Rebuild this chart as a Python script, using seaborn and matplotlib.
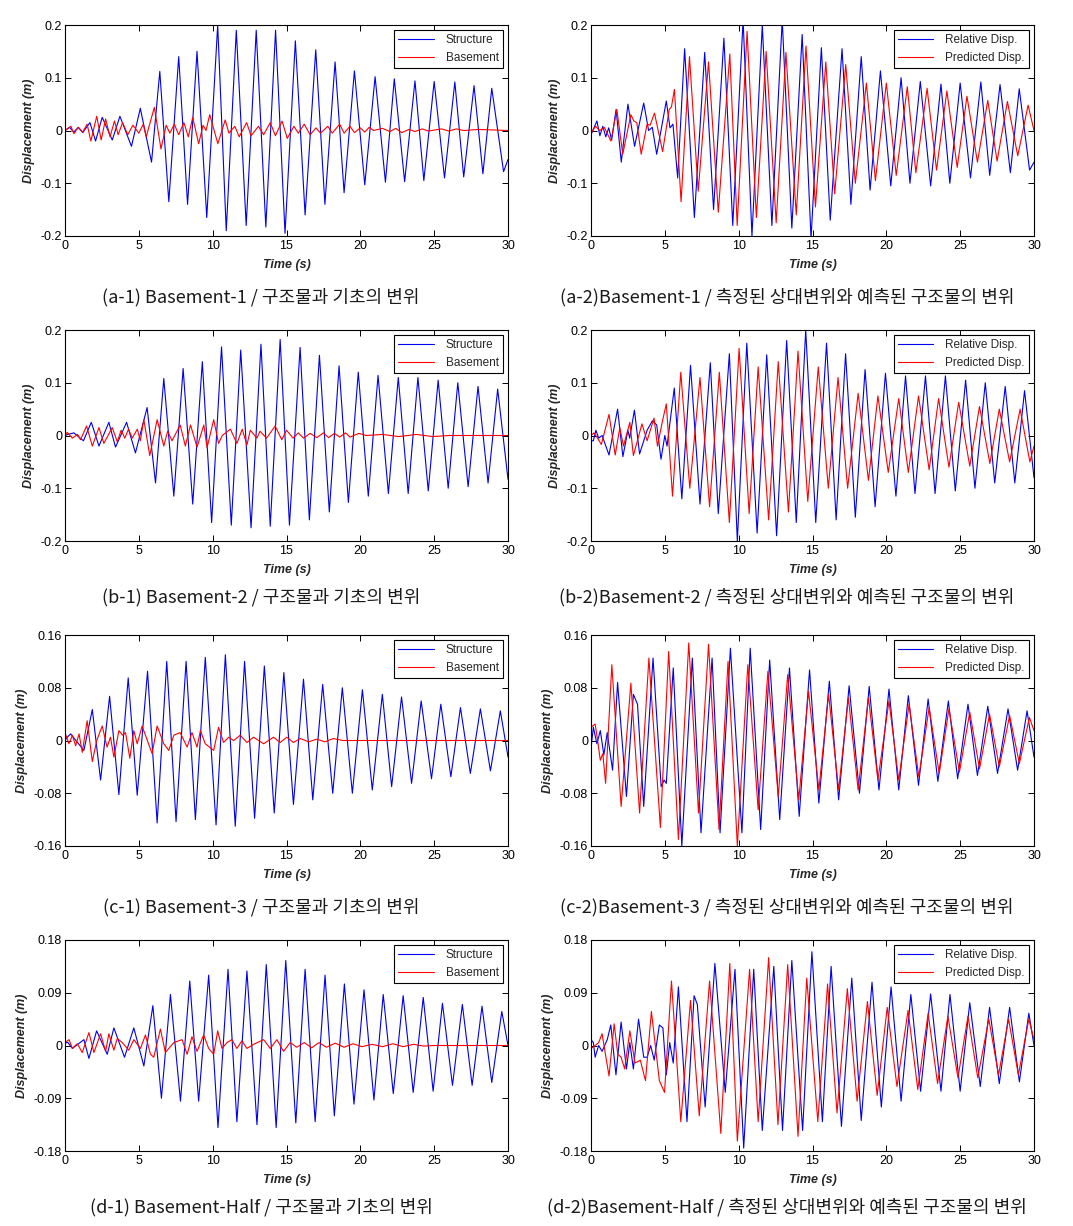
import numpy as np
import pandas as pd
import matplotlib
matplotlib.use("Agg")
import matplotlib.pyplot as plt
import seaborn as sns

# ---------------- data: (time s, displacement m) extrema ----------------
a1_structure = [(0.0,0.0),(0.3,0.006),(0.6,-0.003),(0.9,0.006),(1.2,-0.004),(1.69,0.015),(2.07,-0.02),(2.52,0.025),(3.2,-0.018),(3.72,0.027),(4.5,-0.03),(5.1,0.042),(5.86,-0.06),(6.42,0.112),(7.03,-0.135),(7.7,0.14),(8.3,-0.14),(8.94,0.15),(9.6,-0.165),(10.34,0.2),(10.92,-0.19),(11.6,0.19),(12.27,-0.18),(12.95,0.19),(13.6,-0.183),(14.26,0.19),(14.9,-0.195),(15.6,0.17),(16.26,-0.16),(16.98,0.153),(17.6,-0.14),(18.29,0.13),(18.9,-0.118),(19.6,0.113),(20.3,-0.103),(21.0,0.102),(21.7,-0.098),(22.3,0.098),(23.0,-0.097),(23.7,0.094),(24.3,-0.095),(25.0,0.093),(25.7,-0.09),(26.4,0.092),(27.0,-0.088),(27.7,0.085),(28.3,-0.082),(28.9,0.08),(29.7,-0.078),(30.0,-0.055)]
a1_basement = [(0.0,0.0),(0.4,0.008),(0.6,-0.006),(0.9,0.006),(1.2,-0.003),(1.5,0.012),(1.75,-0.02),(2.15,0.027),(2.45,-0.018),(2.75,0.022),(3.05,-0.012),(3.35,0.018),(3.6,-0.008),(3.9,0.015),(4.25,-0.008),(4.6,0.01),(5.0,-0.005),(5.3,0.012),(5.5,-0.012),(6.05,0.044),(6.5,-0.035),(6.85,0.01),(7.1,-0.005),(7.4,0.012),(7.7,-0.008),(8.05,0.015),(8.35,-0.012),(8.65,0.025),(9.05,-0.025),(9.35,0.01),(9.55,0.0),(9.8,0.03),(10.35,-0.025),(10.85,0.02),(11.1,-0.005),(11.5,0.008),(11.8,-0.012),(12.3,0.015),(12.6,-0.01),(13.1,0.008),(13.45,-0.008),(13.9,0.015),(14.25,-0.01),(14.7,0.018),(15.05,-0.015),(15.5,0.008),(15.8,-0.005),(16.2,0.012),(16.6,-0.008),(17.0,0.005),(17.3,-0.005),(17.8,0.008),(18.1,-0.005),(18.6,0.012),(18.9,-0.005),(19.3,0.008),(19.6,-0.004),(20.0,0.005),(20.3,-0.003),(20.6,0.006),(20.9,0.0),(21.5,0.004),(22.0,-0.002),(22.4,0.004),(22.8,-0.004),(23.3,0.002),(23.7,-0.002),(24.2,0.003),(24.6,-0.001),(25.5,0.003),(26.0,-0.001),(26.5,0.003),(27.0,0.0),(28.0,0.002),(30.0,0.0)]

a2_relative = [(0.0,-0.008),(0.4,0.018),(0.6,-0.01),(0.8,0.008),(1.0,-0.012),(1.2,0.005),(1.4,-0.018),(1.7,0.04),(2.05,-0.06),(2.5,0.05),(2.95,-0.03),(3.57,0.052),(3.9,0.0),(4.15,0.006),(4.45,-0.045),(5.1,0.056),(5.35,0.005),(5.55,0.012),(5.87,-0.09),(6.34,0.155),(7.0,-0.165),(7.7,0.148),(8.3,-0.15),(9.0,0.175),(9.6,-0.18),(10.3,0.21),(10.9,-0.2),(11.6,0.2),(12.25,-0.18),(12.95,0.21),(13.6,-0.185),(14.3,0.182),(14.9,-0.205),(15.6,0.157),(16.2,-0.17),(17.0,0.155),(17.6,-0.14),(18.3,0.14),(18.9,-0.113),(19.6,0.113),(20.3,-0.105),(21.0,0.1),(21.6,-0.1),(22.3,0.093),(23.0,-0.105),(23.7,0.088),(24.3,-0.1),(25.0,0.09),(25.7,-0.09),(26.4,0.092),(27.0,-0.085),(27.7,0.087),(28.4,-0.08),(29.0,0.079),(29.7,-0.075),(30.0,-0.06)]
a2_predicted = [(0.0,-0.005),(0.3,0.008),(0.6,0.0),(0.9,0.006),(1.35,-0.02),(1.75,0.04),(2.15,-0.045),(2.7,0.03),(2.9,0.018),(3.1,0.015),(3.4,-0.045),(3.8,0.012),(4.0,0.01),(4.3,0.033),(4.85,-0.04),(5.3,0.04),(5.45,0.045),(5.65,0.078),(6.1,-0.135),(6.67,0.14),(7.26,-0.115),(7.96,0.13),(8.62,-0.155),(9.4,0.145),(9.9,-0.18),(10.57,0.188),(11.2,-0.165),(11.86,0.15),(12.54,-0.175),(13.2,0.148),(13.9,-0.16),(14.56,0.16),(15.2,-0.145),(15.9,0.13),(16.5,-0.12),(17.25,0.125),(17.9,-0.1),(18.65,0.09),(19.26,-0.095),(20.0,0.09),(20.67,-0.085),(21.42,0.083),(22.0,-0.08),(22.76,0.08),(23.4,-0.075),(24.1,0.075),(24.8,-0.07),(25.46,0.065),(26.17,-0.06),(26.87,0.057),(27.5,-0.058),(28.2,0.055),(28.9,-0.048),(29.6,0.048),(30.0,0.0)]

b1_structure = [(0.0,0.0),(0.2,0.002),(0.6,0.005),(1.25,-0.01),(1.78,0.025),(2.3,-0.02),(2.97,0.025),(3.42,-0.022),(4.17,0.025),(4.77,-0.033),(5.56,0.053),(6.13,-0.09),(6.69,0.108),(7.37,-0.115),(8.0,0.127),(8.65,-0.13),(9.3,0.14),(9.93,-0.165),(10.6,0.168),(11.26,-0.17),(11.9,0.162),(12.6,-0.175),(13.27,0.173),(13.9,-0.172),(14.57,0.182),(15.2,-0.17),(15.92,0.167),(16.55,-0.16),(17.23,0.152),(17.9,-0.145),(18.56,0.132),(19.19,-0.127),(19.86,0.12),(20.54,-0.115),(21.2,0.114),(21.9,-0.11),(22.57,0.11),(23.24,-0.11),(23.9,0.11),(24.6,-0.105),(25.27,0.105),(25.95,-0.1),(26.6,0.1),(27.3,-0.097),(27.97,0.093),(28.65,-0.09),(29.3,0.088),(30.0,-0.083)]
b1_basement = [(0.0,0.0),(0.15,0.006),(0.5,-0.005),(0.85,0.002),(1.05,-0.008),(1.46,0.018),(1.85,-0.02),(2.3,0.015),(2.63,-0.015),(3.2,0.015),(3.54,-0.012),(3.8,0.01),(4.05,-0.005),(4.3,0.012),(4.55,-0.005),(4.9,0.012),(5.1,-0.01),(5.34,0.03),(5.74,-0.038),(6.24,0.03),(6.69,-0.02),(6.95,0.008),(7.25,-0.01),(7.8,0.02),(8.15,-0.02),(8.5,0.02),(8.94,-0.022),(9.4,0.02),(9.62,-0.023),(10.07,0.03),(10.4,-0.015),(10.65,0.0),(11.2,0.012),(11.64,-0.015),(12.0,0.012),(12.32,-0.018),(12.55,0.01),(13.0,-0.005),(13.2,0.008),(13.65,-0.005),(14.23,0.018),(14.68,-0.008),(15.0,0.01),(15.45,-0.005),(15.8,0.005),(16.15,-0.005),(16.6,0.004),(17.05,-0.004),(17.5,0.005),(17.85,-0.004),(18.25,0.004),(18.6,-0.003),(19.0,0.005),(19.3,-0.003),(19.9,0.004),(20.4,0.0),(21.5,0.002),(22.6,-0.002),(23.8,0.002),(24.9,-0.002),(26.0,0.0),(30.0,0.0)]

b2_relative = [(0.0,-0.01),(0.16,-0.01),(0.33,0.01),(0.52,-0.005),(0.75,0.0),(1.22,-0.037),(1.8,0.05),(2.16,-0.04),(2.5,0.01),(2.62,-0.005),(2.94,0.048),(3.29,-0.035),(3.8,0.01),(4.16,0.028),(4.45,0.02),(4.74,-0.045),(5.0,0.0),(5.15,-0.02),(5.64,0.09),(6.15,-0.12),(6.74,0.133),(7.38,-0.13),(8.08,0.138),(8.62,-0.148),(9.37,0.155),(9.91,-0.2),(10.55,0.175),(11.25,-0.185),(11.9,0.153),(12.57,-0.19),(13.25,0.18),(13.9,-0.165),(14.54,0.2),(15.22,-0.165),(15.95,0.175),(16.6,-0.16),(17.24,0.155),(17.9,-0.155),(18.56,0.125),(19.24,-0.135),(19.94,0.118),(20.65,-0.115),(21.3,0.113),(21.94,-0.11),(22.65,0.113),(23.3,-0.11),(24.0,0.113),(24.67,-0.105),(25.37,0.105),(26.0,-0.1),(26.7,0.1),(27.34,-0.09),(28.05,0.093),(28.7,-0.09),(29.36,0.085),(30.0,-0.08)]
b2_predicted = [(0.0,0.0),(0.2,0.005),(0.4,-0.003),(0.7,-0.017),(1.22,0.04),(1.64,-0.037),(1.95,0.015),(2.2,-0.02),(2.63,0.025),(2.87,-0.038),(3.45,0.022),(3.8,-0.01),(4.27,0.033),(4.5,-0.02),(4.86,0.03),(5.1,0.06),(5.52,-0.115),(6.08,0.12),(6.69,-0.1),(7.38,0.11),(8.03,-0.135),(8.69,0.12),(9.37,-0.165),(10.03,0.165),(10.71,-0.148),(11.32,0.13),(12.03,-0.16),(12.68,0.14),(13.37,-0.145),(14.02,0.16),(14.68,-0.125),(15.39,0.13),(16.07,-0.1),(16.73,0.11),(17.38,-0.1),(18.09,0.08),(18.79,-0.085),(19.43,0.075),(20.13,-0.07),(20.84,0.07),(21.49,-0.07),(22.18,0.075),(22.9,-0.065),(23.54,0.07),(24.24,-0.06),(24.9,0.063),(25.65,-0.058),(26.31,0.055),(27.01,-0.053),(27.65,0.05),(28.35,-0.05),(29.06,0.05),(29.72,-0.05),(30.0,-0.02)]

c1_structure = [(0.0,0.0),(0.15,0.005),(0.38,0.01),(1.28,-0.015),(1.85,0.047),(2.41,-0.06),(3.02,0.067),(3.65,-0.082),(4.28,0.095),(4.89,-0.083),(5.59,0.105),(6.24,-0.125),(6.89,0.12),(7.52,-0.123),(8.2,0.12),(8.83,-0.12),(9.5,0.126),(10.23,-0.128),(10.86,0.13),(11.53,-0.13),(12.16,0.12),(12.84,-0.118),(13.5,0.113),(14.17,-0.11),(14.82,0.103),(15.47,-0.097),(16.15,0.093),(16.78,-0.09),(17.45,0.085),(18.13,-0.08),(18.78,0.08),(19.46,-0.08),(20.14,0.077),(20.81,-0.075),(21.49,0.07),(22.12,-0.07),(22.79,0.066),(23.47,-0.065),(24.12,0.06),(24.82,-0.058),(25.45,0.055),(26.13,-0.055),(26.78,0.05),(27.45,-0.05),(28.13,0.048),(28.81,-0.046),(29.48,0.045),(30.0,-0.025)]
c1_basement = [(0.0,0.012),(0.27,-0.005),(0.5,0.008),(0.72,-0.008),(0.95,0.01),(1.17,-0.018),(1.5,0.03),(1.85,-0.032),(2.15,0.0),(2.52,0.022),(2.85,-0.01),(3.08,0.005),(3.31,-0.025),(3.65,0.015),(3.9,0.008),(4.1,0.012),(4.39,-0.027),(4.66,0.015),(4.89,-0.005),(5.22,0.022),(5.9,-0.02),(6.24,0.022),(6.69,-0.005),(7.03,-0.015),(7.37,0.008),(7.8,0.012),(8.27,-0.01),(8.6,0.012),(8.94,-0.01),(9.17,0.015),(9.5,-0.005),(10.07,-0.015),(10.4,0.02),(10.74,-0.003),(11.08,0.005),(11.42,0.0),(11.87,0.008),(12.32,-0.003),(12.77,0.005),(13.45,-0.005),(14.12,0.005),(14.57,-0.003),(15.02,0.005),(15.47,-0.003),(15.93,0.003),(16.5,-0.002),(17.05,0.002),(17.6,-0.002),(18.18,0.003),(18.8,0.0),(30.0,0.0)]

c2_relative = [(0.0,-0.012),(0.16,0.02),(0.4,-0.005),(0.63,0.015),(0.87,-0.022),(1.1,0.012),(1.46,-0.045),(1.8,0.088),(2.4,-0.085),(2.87,0.07),(3.15,0.055),(3.57,-0.1),(4.2,0.125),(4.75,-0.07),(4.95,-0.06),(5.1,-0.065),(5.57,0.11),(6.15,-0.16),(6.86,0.125),(7.45,-0.14),(8.2,0.125),(8.74,-0.14),(9.44,0.14),(10.22,-0.14),(10.78,0.14),(11.49,-0.135),(12.1,0.122),(12.78,-0.12),(13.44,0.11),(14.1,-0.115),(14.8,0.107),(15.43,-0.095),(16.14,0.09),(16.77,-0.09),(17.48,0.083),(18.18,-0.08),(18.84,0.082),(19.5,-0.075),(20.18,0.078),(20.84,-0.075),(21.49,0.068),(22.18,-0.068),(22.83,0.063),(23.49,-0.062),(24.2,0.06),(24.83,-0.058),(25.53,0.055),(26.17,-0.053),(26.87,0.052),(27.53,-0.05),(28.24,0.048),(28.89,-0.045),(29.53,0.045),(30.0,-0.025)]
c2_predicted = [(0.0,0.02),(0.28,0.025),(0.45,0.0),(0.63,-0.03),(0.8,-0.02),(0.99,-0.065),(1.41,0.115),(2.04,-0.1),(2.7,0.087),(3.29,-0.11),(3.92,0.125),(4.7,-0.132),(5.26,0.135),(5.92,-0.15),(6.62,0.148),(7.28,-0.11),(7.96,0.146),(8.67,-0.135),(9.28,0.12),(9.91,-0.16),(10.62,0.115),(11.32,-0.105),(11.98,0.105),(12.68,-0.085),(13.32,0.1),(14.07,-0.09),(14.73,0.075),(15.43,-0.075),(16.09,0.07),(16.77,-0.075),(17.43,0.065),(18.09,-0.075),(18.79,0.065),(19.43,-0.06),(20.18,0.06),(20.84,-0.06),(21.54,0.055),(22.2,-0.055),(22.9,0.05),(23.58,-0.05),(24.24,0.048),(24.95,-0.048),(25.65,0.043),(26.31,-0.043),(26.99,0.04),(27.65,-0.04),(28.35,0.038),(29.01,-0.035),(29.69,0.035),(30.0,0.015)]

d1_structure = [(0.0,0.005),(0.2,0.005),(0.5,-0.005),(1.28,0.01),(1.62,-0.022),(2.14,0.025),(2.86,-0.015),(3.31,0.03),(4.03,-0.02),(4.66,0.03),(5.34,-0.035),(5.95,0.068),(6.53,-0.09),(7.14,0.087),(7.82,-0.095),(8.45,0.11),(9.05,-0.095),(9.73,0.12),(10.36,-0.14),(11.04,0.13),(11.64,-0.13),(12.32,0.127),(13.0,-0.135),(13.63,0.138),(14.3,-0.14),(14.95,0.145),(15.63,-0.132),(16.26,0.13),(16.94,-0.13),(17.61,0.12),(18.24,-0.12),(18.92,0.105),(19.57,-0.1),(20.25,0.095),(20.92,-0.093),(21.55,0.087),(22.23,-0.082),(22.9,0.085),(23.58,-0.08),(24.26,0.082),(24.93,-0.078),(25.56,0.072),(26.24,-0.068),(26.91,0.07),(27.57,-0.068),(28.24,0.067),(28.9,-0.063),(29.58,0.058),(30.0,0.0)]
d1_basement = [(0.0,0.005),(0.27,0.01),(0.5,-0.005),(0.83,0.003),(1.17,-0.012),(1.62,0.022),(1.96,-0.012),(2.41,0.02),(2.75,-0.01),(2.97,0.02),(3.31,-0.008),(3.54,0.012),(3.88,0.005),(4.32,-0.008),(4.66,0.01),(5.11,-0.005),(5.45,0.018),(5.79,-0.015),(6.01,-0.02),(6.46,0.028),(6.8,-0.012),(7.37,0.005),(7.93,0.01),(8.27,-0.015),(8.6,0.015),(8.94,-0.01),(9.39,0.018),(9.73,-0.005),(10.07,-0.015),(10.34,0.025),(10.63,-0.005),(10.97,0.005),(11.3,0.01),(11.64,-0.005),(11.98,0.008),(12.32,-0.005),(12.77,0.002),(13.45,0.01),(13.9,-0.005),(14.35,0.01),(14.8,-0.01),(15.25,0.005),(15.7,-0.003),(16.2,0.005),(16.7,-0.004),(17.2,0.005),(17.7,-0.003),(18.3,0.004),(18.9,-0.003),(19.5,0.003),(20.1,-0.002),(20.8,0.002),(21.5,-0.002),(22.2,0.003),(22.9,-0.002),(23.6,0.002),(24.3,-0.001),(25.0,0.0),(30.0,0.0)]

d2_relative = [(0.0,0.01),(0.16,0.005),(0.28,-0.02),(0.52,0.0),(0.75,-0.01),(1.1,0.01),(1.34,0.035),(1.69,-0.05),(2.04,0.04),(2.4,-0.04),(2.63,0.005),(2.87,-0.04),(3.22,0.045),(3.57,-0.02),(3.8,-0.02),(4.04,0.0),(4.28,-0.025),(4.63,0.035),(4.87,0.03),(5.1,-0.05),(5.33,0.005),(5.57,-0.03),(5.92,0.1),(6.5,-0.13),(6.98,0.085),(7.2,0.07),(7.73,-0.105),(8.39,0.14),(9.09,-0.08),(9.75,0.13),(10.34,-0.175),(11.02,0.13),(11.6,-0.145),(12.38,0.135),(12.97,-0.145),(13.6,0.145),(14.33,-0.145),(14.96,0.16),(15.67,-0.13),(16.26,0.135),(16.96,-0.138),(17.66,0.115),(18.3,-0.128),(19.03,0.108),(19.66,-0.105),(20.32,0.1),(21.0,-0.095),(21.66,0.087),(22.32,-0.078),(23.0,0.088),(23.7,-0.078),(24.31,0.087),(25.0,-0.078),(25.65,0.073),(26.36,-0.07),(26.99,0.065),(27.65,-0.065),(28.35,0.065),(29.01,-0.062),(29.65,0.055),(30.0,0.0)]
d2_predicted = [(0.0,-0.005),(0.28,0.0),(0.52,0.005),(0.75,0.02),(1.22,-0.052),(1.57,0.037),(1.81,-0.015),(2.04,-0.02),(2.28,-0.04),(2.63,0.025),(2.98,-0.03),(3.34,-0.025),(3.69,-0.06),(4.09,0.058),(4.63,-0.06),(4.98,-0.08),(5.45,0.11),(6.08,-0.13),(6.74,0.077),(7.33,-0.12),(8.03,0.11),(8.79,-0.15),(9.4,0.14),(9.91,-0.163),(10.74,0.13),(11.32,-0.13),(12.03,0.15),(12.66,-0.135),(13.32,0.138),(14.02,-0.155),(14.61,0.115),(15.36,-0.13),(16.02,0.105),(16.66,-0.115),(17.36,0.097),(18.02,-0.095),(18.72,0.075),(19.38,-0.085),(20.06,0.065),(20.72,-0.07),(21.47,0.06),(22.13,-0.075),(22.83,0.055),(23.47,-0.065),(24.17,0.05),(24.85,-0.055),(25.53,0.05),(26.19,-0.055),(26.94,0.045),(27.6,-0.05),(28.28,0.045),(28.94,-0.05),(29.65,0.045),(30.0,0.01)]

left_labels = ["Structure", "Basement"]
right_labels = ["Relative Disp.", "Predicted Disp."]
yticks_ab = [-0.2, -0.1, 0, 0.1, 0.2]
ytick_labels_ab = ["-0.2", "-0.1", "0", "0.1", "0.2"]
yticks_c = [-0.16, -0.08, 0, 0.08, 0.16]
ytick_labels_c = ["-0.16", "-0.08", "0", "0.08", "0.16"]
yticks_d = [-0.18, -0.09, 0, 0.09, 0.18]
ytick_labels_d = ["-0.18", "-0.09", "0", "0.09", "0.18"]
xticks = [0, 5, 10, 15, 20, 25, 30]

captions = [
    ("(a-1) Basement-1 / 구조물과 기초의 변위", "(a-2)Basement-1 / 측정된 상대변위와 예측된 구조물의 변위"),
    ("(b-1) Basement-2 / 구조물과 기초의 변위", "(b-2)Basement-2 / 측정된 상대변위와 예측된 구조물의 변위"),
    ("(c-1) Basement-3 / 구조물과 기초의 변위", "(c-2)Basement-3 / 측정된 상대변위와 예측된 구조물의 변위"),
    ("(d-1) Basement-Half / 구조물과 기초의 변위", "(d-2)Basement-Half / 측정된 상대변위와 예측된 구조물의 변위"),
]

rows = [
    (a1_structure, a1_basement, a2_relative, a2_predicted, yticks_ab, ytick_labels_ab),
    (b1_structure, b1_basement, b2_relative, b2_predicted, yticks_ab, ytick_labels_ab),
    (c1_structure, c1_basement, c2_relative, c2_predicted, yticks_c, ytick_labels_c),
    (d1_structure, d1_basement, d2_relative, d2_predicted, yticks_d, ytick_labels_d),
]

# ---------------- style ----------------
sns.set_style("ticks")
plt.rcParams['font.family'] = ['Liberation Sans', 'DejaVu Sans']
plt.rcParams.update({
    'xtick.direction': 'in', 'ytick.direction': 'in',
    'xtick.top': True, 'ytick.right': True,
    'xtick.major.size': 4, 'ytick.major.size': 4,
    'xtick.major.width': 0.7, 'ytick.major.width': 0.7,
    'axes.linewidth': 0.8, 'axes.edgecolor': 'black',
    'xtick.color': 'black', 'ytick.color': 'black',
    'xtick.labelsize': 9, 'ytick.labelsize': 9,
})

W, H = 1073, 1226
fig = plt.figure(figsize=(W / 100, H / 100), dpi=100)
fig.patch.set_facecolor('white')

def rect(left, top, w, h):
    return [left / W, 1 - (top + h) / H, w / W, h / H]

row_tops = [25, 330, 635, 940]
caption_y = [297, 597, 907, 1207]
BLUE = "#0000ee"
RED = "#ff0000"

def to_df(pairs):
    return pd.DataFrame(pairs, columns=["t", "v"])

for r, (s1, s2, s3, s4, yt, ytl) in enumerate(rows):
    for c, (blue_s, red_s, labels) in enumerate([(s1, s2, left_labels), (s3, s4, right_labels)]):
        left = 65 if c == 0 else 591
        ax = fig.add_axes(rect(left, row_tops[r], 443, 211))
        dfb = to_df(blue_s)
        dfr = to_df(red_s)
        sns.lineplot(data=dfb, x="t", y="v", ax=ax, color=BLUE, lw=0.8,
                     estimator=None, sort=False, label=labels[0])
        sns.lineplot(data=dfr, x="t", y="v", ax=ax, color=RED, lw=0.8,
                     estimator=None, sort=False, label=labels[1])
        ax.set_xlim(0, 30)
        ax.set_ylim(yt[0], yt[-1])
        ax.set_xticks(xticks)
        ax.set_xticklabels([str(x) for x in xticks])
        ax.set_yticks(yt)
        ax.set_yticklabels(ytl)
        ax.tick_params(axis='x', which='major', pad=3)
        ax.tick_params(axis='y', which='major', pad=2)
        ax.set_xlabel("Time (s)", fontsize=9, fontweight='bold', fontstyle='italic', labelpad=5)
        ax.set_ylabel("Displacement (m)", fontsize=9, fontweight='bold', fontstyle='italic', labelpad=4)
        for sp in ax.spines.values():
            sp.set_visible(True)
            sp.set_color('black')
        leg = ax.legend(loc='upper right', fontsize=8.5, frameon=True, fancybox=False,
                        framealpha=1, edgecolor='black', borderpad=0.35,
                        labelspacing=0.45, handlelength=3.0, handletextpad=1.0,
                        borderaxespad=0.45)
        leg.get_frame().set_linewidth(0.8)
        cx = 261 if c == 0 else 787
        fig.text(cx / W, 1 - caption_y[r] / H, captions[r][c], ha='center', va='center',
                 fontsize=13, fontweight='light', family=['Noto Sans CJK KR', 'DejaVu Sans'],
                 color='#1a1a1a')

fig.savefig("out.png", dpi=100, facecolor='white')
